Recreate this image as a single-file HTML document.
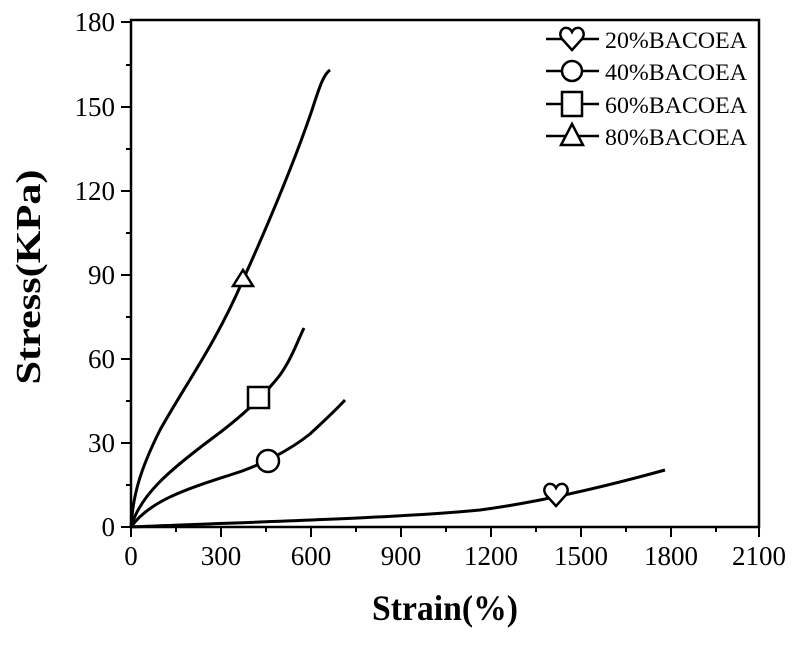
<!DOCTYPE html>
<html><head><style>body{margin:0;background:#fff}</style></head><body>
<svg width="800" height="643" viewBox="0 0 800 643" xmlns="http://www.w3.org/2000/svg" font-family="Liberation Serif, serif">
<rect x="131" y="20" width="628" height="507" fill="none" stroke="#000" stroke-width="2.5"/>
<g stroke="#000" stroke-width="2">
<line x1="131" y1="527" x2="131" y2="537"/><line x1="221" y1="527" x2="221" y2="537"/><line x1="311" y1="527" x2="311" y2="537"/><line x1="401" y1="527" x2="401" y2="537"/><line x1="491" y1="527" x2="491" y2="537"/><line x1="581" y1="527" x2="581" y2="537"/><line x1="671" y1="527" x2="671" y2="537"/><line x1="759" y1="527" x2="759" y2="537"/>
<line x1="176" y1="527" x2="176" y2="532"/><line x1="266" y1="527" x2="266" y2="532"/><line x1="356" y1="527" x2="356" y2="532"/><line x1="446" y1="527" x2="446" y2="532"/><line x1="536" y1="527" x2="536" y2="532"/><line x1="626" y1="527" x2="626" y2="532"/><line x1="716" y1="527" x2="716" y2="532"/>
<line x1="121" y1="527" x2="131" y2="527"/><line x1="121" y1="443" x2="131" y2="443"/><line x1="121" y1="359" x2="131" y2="359"/><line x1="121" y1="275" x2="131" y2="275"/><line x1="121" y1="191" x2="131" y2="191"/><line x1="121" y1="107" x2="131" y2="107"/><line x1="121" y1="22" x2="131" y2="22"/>
<line x1="126" y1="485" x2="131" y2="485"/><line x1="126" y1="401" x2="131" y2="401"/><line x1="126" y1="317" x2="131" y2="317"/><line x1="126" y1="233" x2="131" y2="233"/><line x1="126" y1="149" x2="131" y2="149"/><line x1="126" y1="65" x2="131" y2="65"/>
</g>
<g font-size="27" fill="#000" text-anchor="middle">
<text x="131" y="565">0</text><text x="221" y="565">300</text><text x="311" y="565">600</text><text x="401" y="565">900</text><text x="491" y="565">1200</text><text x="581" y="565">1500</text><text x="671" y="565">1800</text><text x="759" y="565">2100</text>
</g>
<g font-size="27" fill="#000" text-anchor="end">
<text x="115" y="536">0</text><text x="115" y="452">30</text><text x="115" y="368">60</text><text x="115" y="284">90</text><text x="115" y="200">120</text><text x="115" y="116">150</text><text x="115" y="31">180</text>
</g>
<text x="445" y="620" font-size="36" font-weight="bold" text-anchor="middle" textLength="146" lengthAdjust="spacingAndGlyphs">Strain(%)</text>
<text transform="translate(40,277) rotate(-90)" font-size="35" font-weight="bold" text-anchor="middle" textLength="215" lengthAdjust="spacingAndGlyphs">Stress(KPa)</text>
<g fill="none" stroke="#000" stroke-width="3">
<path d="M131,527 C133,495 140,470 160,430 C185,385 215,345 243,280 C270,220 295,160 312,110 C320,85 324,74 330,70"/>
<path d="M131,527 C140,495 170,470 210,440 C240,418 262,398 280,375 C292,358 298,340 304,328"/>
<path d="M131,527 C150,500 190,488 230,475 C260,466 290,450 310,434 C325,420 336,410 345,400"/>
<path d="M131,527 C250,522 400,518 480,510 C540,502 600,488 665,470"/>
</g>
<g fill="#fff" stroke="#000" stroke-width="2.5">
<path d="M243,270 L253,286 L233,286 Z"/>
<rect x="248" y="387" width="21" height="21"/>
<circle cx="268" cy="461" r="11"/>
<path d="M556,506 L546,495 C542,489 546,483 551,484 C553,484 555,486 556,488 C557,486 559,484 561,484 C566,483 570,489 566,495 Z"/>
</g>
<g stroke="#000" stroke-width="2.5" fill="#fff">
<line x1="546" y1="39" x2="599" y2="39"/><path d="M572,50 L562,39 C558,33 562,27 567,28 C569,28 571,30 572,32 C573,30 575,28 577,28 C582,27 586,33 582,39 Z"/>
<line x1="546" y1="71" x2="599" y2="71"/><circle cx="572" cy="71" r="10"/>
<line x1="546" y1="104" x2="599" y2="104"/><rect x="562" y="92" width="20" height="24"/>
<line x1="546" y1="136" x2="599" y2="136"/><path d="M572,124 L583,145 L561,145 Z"/>
</g>
<g font-size="23" fill="#000">
<text x="605" y="48" textLength="142" lengthAdjust="spacingAndGlyphs">20%BACOEA</text><text x="605" y="80" textLength="142" lengthAdjust="spacingAndGlyphs">40%BACOEA</text><text x="605" y="113" textLength="142" lengthAdjust="spacingAndGlyphs">60%BACOEA</text><text x="605" y="145" textLength="142" lengthAdjust="spacingAndGlyphs">80%BACOEA</text>
</g>
</svg>
</body></html>
